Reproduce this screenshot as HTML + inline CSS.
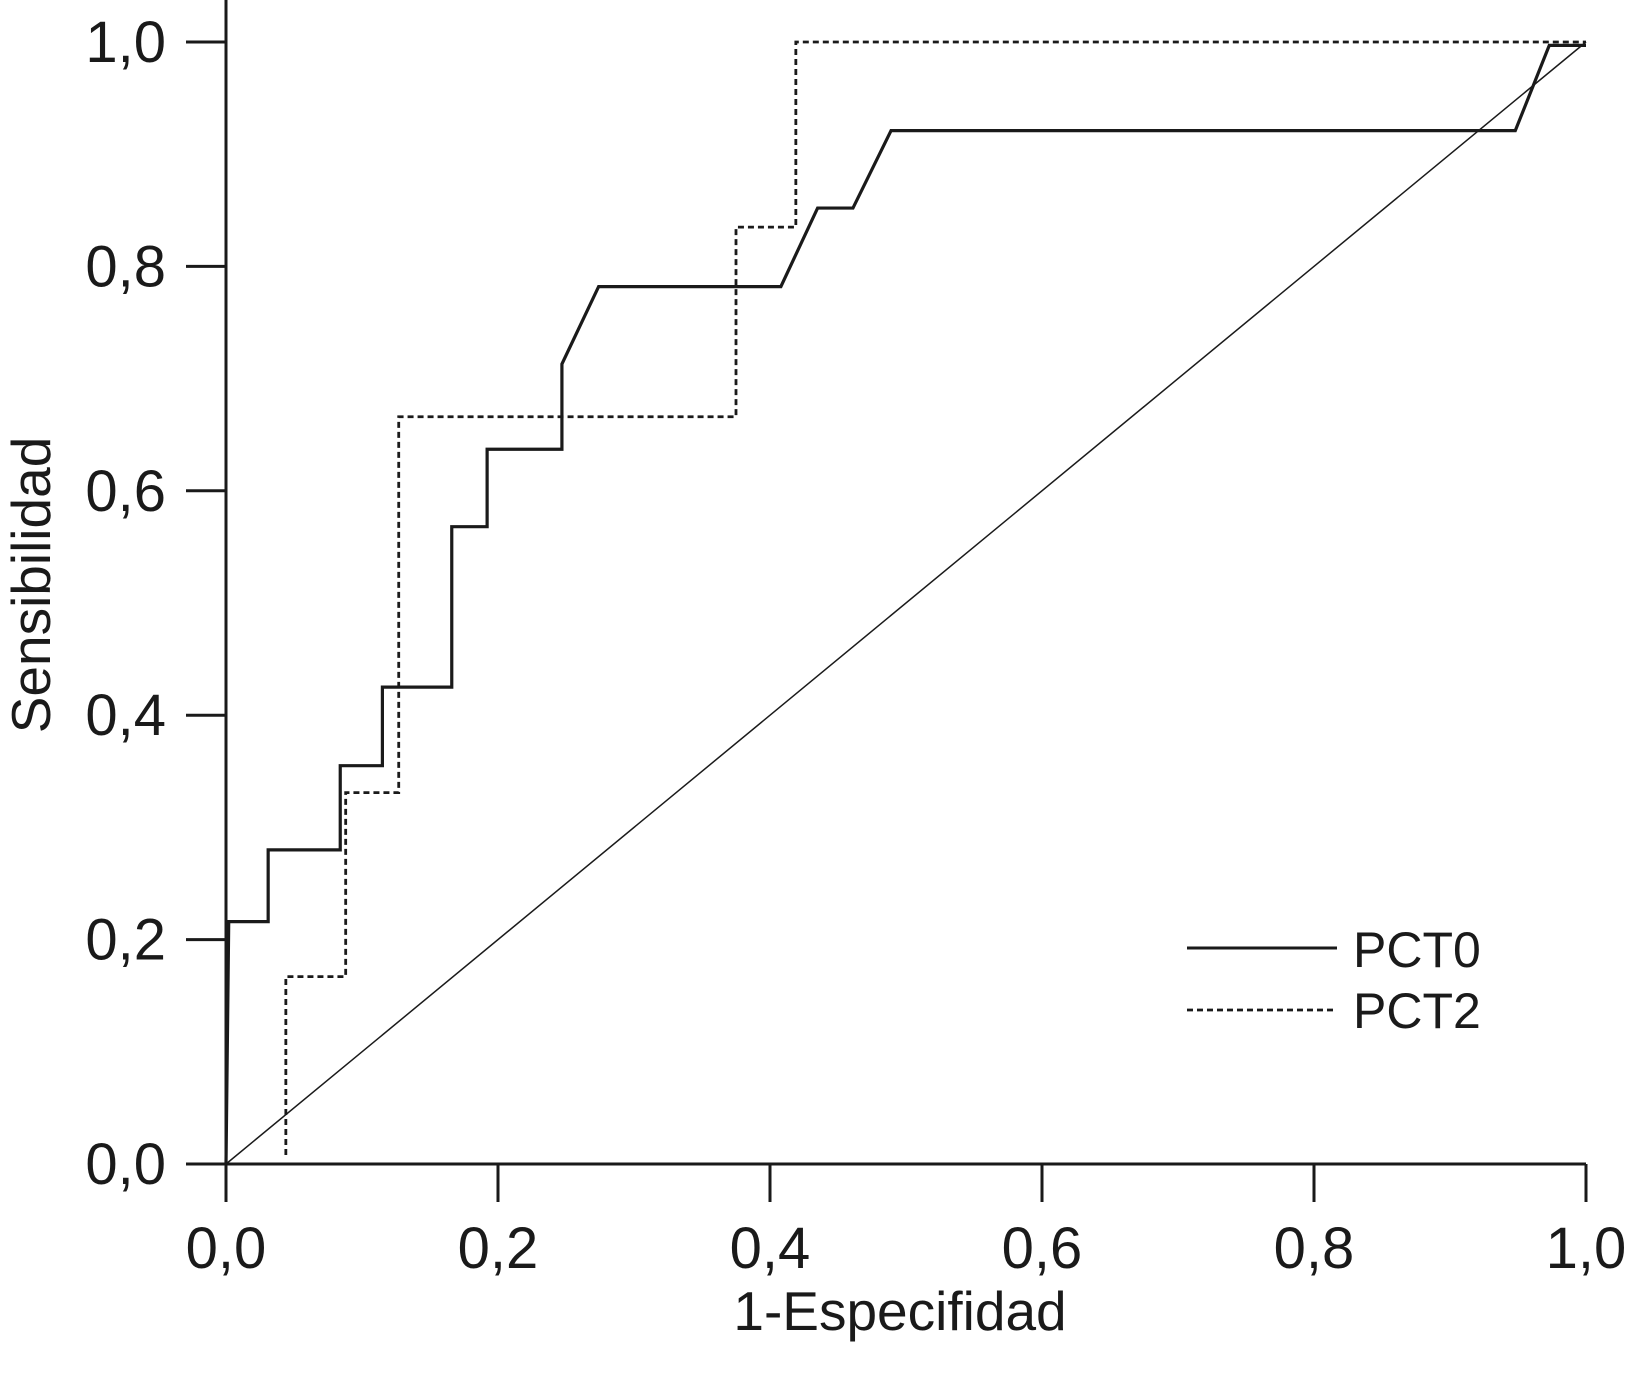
<!DOCTYPE html>
<html><head><meta charset="utf-8"><style>
html,body{margin:0;padding:0;background:#fff}
svg{display:block}
text{font-family:"Liberation Sans",Arial,sans-serif;fill:#1a1a1a}
</style></head><body>
<svg id="chart" width="1625" height="1373" viewBox="0 0 1625 1373" xmlns="http://www.w3.org/2000/svg"></svg>
<script>
const xTicks=[0,0.2,0.4,0.6,0.8,1.0];
const yTicks=[0,0.2,0.4,0.6,0.8,1.0];
const tickLabels=["0,0","0,2","0,4","0,6","0,8","1,0"];
const pct0X=[0,0.002,0.031,0.031,0.084,0.084,0.115,0.115,0.166,0.166,0.192,0.192,0.247,0.247,0.274,0.408,0.435,0.461,0.489,0.948,0.973,1.0];
const pct0Y=[0,0.216,0.216,0.28,0.28,0.355,0.355,0.425,0.425,0.568,0.568,0.637,0.637,0.713,0.782,0.782,0.852,0.852,0.921,0.921,0.997,0.997];
const pct2X=[0.044,0.044,0.088,0.088,0.127,0.127,0.375,0.375,0.419,0.419,1.0];
const pct2Y=[0.008,0.167,0.167,0.331,0.331,0.666,0.666,0.835,0.835,1.0,1.0];
const X0=226,X1=1586,Y0=1164,Y1=42;
const sx=v=>X0+(X1-X0)*v, sy=v=>Y0-(Y0-Y1)*v;
const svg=document.getElementById('chart');
const NS='http://www.w3.org/2000/svg';
function mk(tag,attrs,parent){const e=document.createElementNS(NS,tag);for(const k in attrs)e.setAttribute(k,attrs[k]);(parent||svg).appendChild(e);return e;}
let e;
e=mk('line',{x1:X0,y1:0,x2:X0,y2:Y0,stroke:'#1a1a1a','stroke-width':3});


e=mk('line',{x1:X0,y1:Y0,x2:X1,y2:Y0,stroke:'#1a1a1a','stroke-width':3});


xTicks.forEach((v,i)=>{
 e=mk('line',{x1:sx(v),y1:Y0,x2:sx(v),y2:Y0+38,stroke:'#1a1a1a','stroke-width':3});
 
 
 e=mk('text',{x:sx(v),y:Y0+104,'font-size':58,'text-anchor':'middle'});e.textContent=tickLabels[i];
 
 
});
yTicks.forEach((v,i)=>{
 e=mk('line',{x1:X0-40,y1:sy(v),x2:X0,y2:sy(v),stroke:'#1a1a1a','stroke-width':3});
 
 
 e=mk('text',{x:166,y:sy(v)+20,'font-size':58,'text-anchor':'end'});e.textContent=tickLabels[i];
 
 
});
e=mk('line',{x1:sx(0),y1:sy(0),x2:sx(1),y2:sy(1),stroke:'#1a1a1a','stroke-width':1.5});


function pts(xs,ys){return xs.map((x,i)=>sx(x)+','+sy(ys[i])).join(' ');}
e=mk('polyline',{points:pts(pct0X,pct0Y),fill:'none',stroke:'#1a1a1a','stroke-width':3.2});


e=mk('polyline',{points:pts(pct2X,pct2Y),fill:'none',stroke:'#1a1a1a','stroke-width':2.8,'stroke-dasharray':'6,4'});


e=mk('line',{x1:1187,y1:948,x2:1337,y2:948,stroke:'#1a1a1a','stroke-width':3});


e=mk('text',{x:1353,y:967,'font-size':50});e.textContent='PCT0';


e=mk('line',{x1:1187,y1:1010,x2:1337,y2:1010,stroke:'#1a1a1a','stroke-width':2.8,'stroke-dasharray':'6,4'});


e=mk('text',{x:1353,y:1028,'font-size':50});e.textContent='PCT2';


e=mk('text',{x:900,y:1330,'font-size':55,'text-anchor':'middle'});e.textContent='1-Especifidad';


e=mk('text',{x:0,y:0,'font-size':55,'text-anchor':'middle',transform:'translate(50,585) rotate(-90)'});e.textContent='Sensibilidad';


</script>
</body></html>
